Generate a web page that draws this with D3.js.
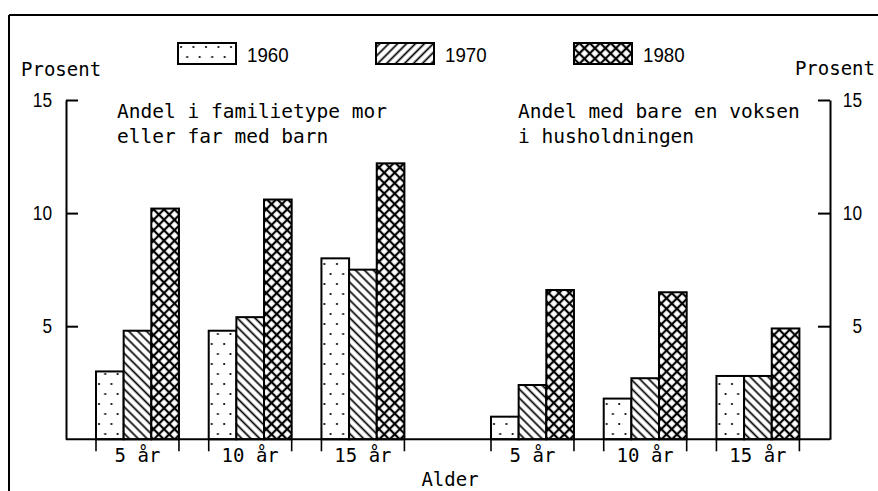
<!DOCTYPE html>
<html><head><meta charset="utf-8">
<script src="https://cdn.jsdelivr.net/npm/d3@7"></script>
<style>html,body{margin:0;padding:0;background:#fff}</style>
</head><body>
<svg id="chart" width="878" height="491"></svg>
<script>
// ---- data ----
const ages = ["5 år", "10 år", "15 år"];
const years = ["1960", "1970", "1980"];
const family1960 = [3.0, 4.8, 8.0];
const family1970 = [4.8, 5.4, 7.5];
const family1980 = [10.2, 10.6, 12.2];
const alone1960 = [1.0, 1.8, 2.8];
const alone1970 = [2.4, 2.7, 2.8];
const alone1980 = [6.6, 6.5, 4.9];
const yTicks = [5, 10, 15];
const leftTitle = ["Andel i familietype mor", "eller far med barn"];
const rightTitle = ["Andel med bare en voksen", "i husholdningen"];

const svg = d3.select("#chart");
const MONO = "'DejaVu Sans Mono', 'Liberation Mono', monospace";
const SANS = "'Liberation Sans', Arial, sans-serif";

// ---- patterns ----
const defs = svg.append("defs");
const pDots = defs.append("pattern").attr("id", "p1960").attr("patternUnits", "userSpaceOnUse")
  .attr("width", 12.5).attr("height", 20);
pDots.append("rect").attr("width", 12.5).attr("height", 20).attr("fill", "#fff");
pDots.append("circle").attr("cx", 3).attr("cy", 4).attr("r", 1.1).attr("fill", "#000");
pDots.append("circle").attr("cx", 9.2).attr("cy", 14).attr("r", 1.1).attr("fill", "#000");

function hatch(id, angle, cross, size, sw) {
  const p = defs.append("pattern").attr("id", id).attr("patternUnits", "userSpaceOnUse")
    .attr("width", size).attr("height", size).attr("patternTransform", `rotate(${angle})`);
  p.append("rect").attr("width", size).attr("height", size).attr("fill", "#fff");
  p.append("line").attr("x1", -1).attr("x2", size + 1).attr("y1", size / 2).attr("y2", size / 2)
    .attr("stroke", "#000").attr("stroke-width", sw);
  if (cross) p.append("line").attr("y1", -1).attr("y2", size + 1).attr("x1", size / 2).attr("x2", size / 2)
    .attr("stroke", "#000").attr("stroke-width", sw);
}
hatch("p1970", 45, false, 6.3, 1.7);
hatch("p1970leg", -45, false, 6.3, 1.7);
hatch("p1980", 45, true, 7.4, 2.2);
const fills = {"1960": "url(#p1960)", "1970": "url(#p1970)", "1980": "url(#p1980)"};
const legFills = {"1960": "url(#p1960)", "1970": "url(#p1970leg)", "1980": "url(#p1980)"};

// ---- frame ----
svg.append("line").attr("x1", 9).attr("x2", 878).attr("y1", 15).attr("y2", 15).attr("stroke", "#000").attr("stroke-width", 2);
svg.append("line").attr("x1", 9).attr("x2", 9).attr("y1", 15).attr("y2", 491).attr("stroke", "#000").attr("stroke-width", 2);

// ---- scales ----
const y = d3.scaleLinear().domain([0, 15]).range([439.3, 100]);
const xL = d3.scaleBand().domain(ages).range([96, 404.4]).paddingInner(0.264).paddingOuter(0);
const xR = d3.scaleBand().domain(ages).range([491, 799.4]).paddingInner(0.264).paddingOuter(0);
const xSub = d3.scaleBand().domain(years).range([0, xL.bandwidth()]);

function squeeze(sel, perChar) {
  sel.each(function () {
    const t = d3.select(this).text();
    d3.select(this).attr("textLength", t.length * perChar).attr("lengthAdjust", "spacingAndGlyphs");
  });
}

// ---- bars ----
function panel(x, s1960, s1970, s1980) {
  const rows = ages.map((a, i) => ({age: a, vals: [
    {year: "1960", v: s1960[i]}, {year: "1970", v: s1970[i]}, {year: "1980", v: s1980[i]}]}));
  const g = svg.append("g");
  const grp = g.selectAll("g.grp").data(rows).join("g").attr("class", "grp")
    .attr("transform", d => `translate(${x(d.age)},0)`);
  grp.selectAll("rect").data(d => d.vals).join("rect")
    .attr("x", d => xSub(d.year)).attr("width", xSub.bandwidth())
    .attr("y", d => y(d.v)).attr("height", d => y(0) - y(d.v))
    .attr("fill", d => fills[d.year]).attr("stroke", "#000").attr("stroke-width", 2);
  // edge ticks below baseline
  grp.selectAll("line.edge").data([0, x.bandwidth()]).join("line").attr("class", "edge")
    .attr("x1", d => d).attr("x2", d => d).attr("y1", y(0)).attr("y2", y(0) + 12)
    .attr("stroke", "#000").attr("stroke-width", 1.6);
  grp.append("text").attr("x", x.bandwidth() / 2).attr("y", 462).attr("text-anchor", "middle")
    .attr("font-family", MONO).attr("font-size", 19).text(d => d.age);
}
panel(xL, family1960, family1970, family1980);
panel(xR, alone1960, alone1970, alone1980);

// ---- axes ----
const axL = svg.append("g").attr("transform", "translate(66,0)")
  .call(d3.axisLeft(y).tickValues(yTicks).tickSizeInner(-12).tickSizeOuter(0).tickPadding(14).tickFormat(d3.format("d")));
const axR = svg.append("g").attr("transform", "translate(830,0)")
  .call(d3.axisRight(y).tickValues(yTicks).tickSizeInner(-12).tickSizeOuter(0).tickPadding(13).tickFormat(d3.format("d")));
[axL, axR].forEach(a => {
  a.select(".domain").attr("stroke-width", 2);
  a.selectAll(".tick line").attr("stroke-width", 2);
  a.selectAll("text").attr("font-family", SANS).attr("font-size", 20).attr("fill", "#000");
  squeeze(a.selectAll("text"), 9.6);
});
axR.selectAll("text").attr("text-anchor", "end").attr("x", 32);
// baseline
svg.append("line").attr("x1", 66).attr("x2", 830).attr("y1", y(0)).attr("y2", y(0)).attr("stroke", "#000").attr("stroke-width", 2);

// ---- texts ----
svg.append("text").attr("x", 21).attr("y", 76).attr("font-family", MONO).attr("font-size", 19).text("Prosent");
svg.append("text").attr("x", 875).attr("y", 75).attr("text-anchor", "end").attr("font-family", MONO).attr("font-size", 19).text("Prosent");
svg.append("text").attr("x", 450).attr("y", 486).attr("text-anchor", "middle").attr("font-family", MONO).attr("font-size", 19).text("Alder");
leftTitle.forEach((t, i) => svg.append("text").attr("x", 117).attr("y", 118 + i * 25)
  .attr("font-family", MONO).attr("font-size", 19.5).text(t));
rightTitle.forEach((t, i) => svg.append("text").attr("x", 518).attr("y", 118 + i * 25)
  .attr("font-family", MONO).attr("font-size", 19.5).text(t));

// ---- legend ----
const leg = svg.append("g").selectAll("g").data(years).join("g")
  .attr("transform", (d, i) => `translate(${178 + i * 198},43)`);
leg.append("rect").attr("width", 58).attr("height", 21).attr("fill", d => legFills[d])
  .attr("stroke", "#000").attr("stroke-width", 2);
leg.append("text").attr("x", 69).attr("y", 19).attr("font-family", SANS).attr("font-size", 21).text(d => d);
squeeze(leg.selectAll("text"), 10.4);
</script>
</body></html>
